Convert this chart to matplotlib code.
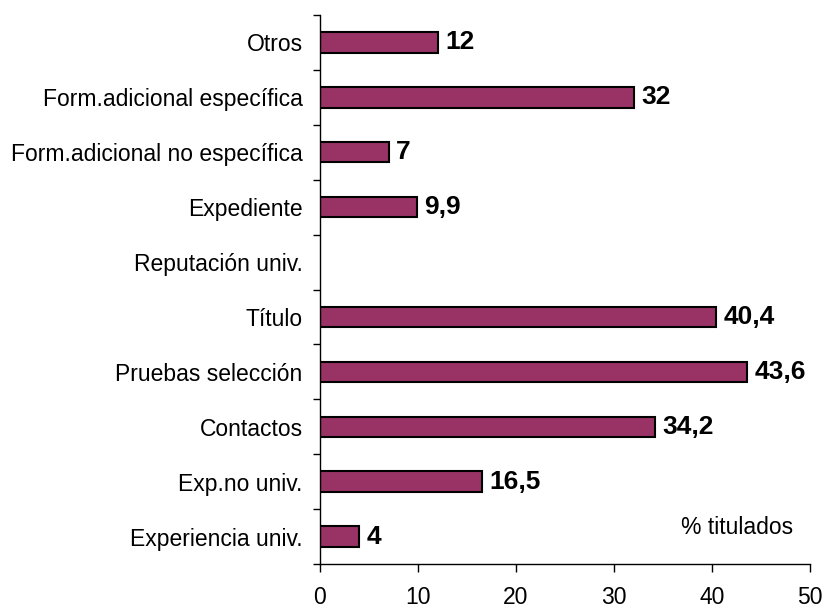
import numpy as np
import matplotlib
matplotlib.use("Agg")
import matplotlib.pyplot as plt
from matplotlib.ticker import FixedLocator

categories = ["Experiencia univ.", "Exp.no univ.", "Contactos", "Pruebas selección",
              "Título", "Reputación univ.", "Expediente",
              "Form.adicional no específica", "Form.adicional específica", "Otros"]
values = [4, 16.5, 34.2, 43.6, 40.4, np.nan, 9.9, 7, 32, 12]
value_labels = ["4", "16,5", "34,2", "43,6", "40,4", "", "9,9", "7", "32", "12"]
x_ticks = [0, 10, 20, 30, 40, 50]
axis_note = "% titulados"

plt.rcParams['font.family'] = ['Liberation Sans', 'DejaVu Sans']

fig = plt.figure(figsize=(8.24, 6.08), dpi=100)
ax = fig.add_axes([320/824, 1 - 564/608, (810-320)/824, (564-15)/608])

y = np.arange(len(categories))
ax.barh(y, values, height=0.37, color="#993366", edgecolor="black", linewidth=1.5)

for yi, v, lab in zip(y, values, value_labels):
    if lab and not np.isnan(v):
        ax.text(v + 0.75, yi, lab, va="center", ha="left", fontsize=19, fontweight="bold")

ax.set_xlim(0, 50)
ax.set_ylim(-0.5, len(categories) - 0.5)
ax.set_xticks(x_ticks)
ax.set_xticklabels([str(t) for t in x_ticks], fontsize=16.5)
ax.set_yticks(y)
ax.set_yticklabels(categories, fontsize=16.5)
ax.yaxis.set_minor_locator(FixedLocator(np.arange(-0.5, len(categories), 1.0)))
ax.tick_params(axis="y", which="major", length=0, pad=12.5)
ax.tick_params(axis="y", which="minor", length=5, width=1, direction="out")
ax.tick_params(axis="x", which="major", length=6, width=1, direction="out", pad=10)

for s in ["top", "right"]:
    ax.spines[s].set_visible(False)
for s in ["left", "bottom"]:
    ax.spines[s].set_linewidth(1)

ax.text((737-320)/490, (564-528)/549, axis_note, transform=ax.transAxes,
        ha="center", va="center", fontsize=16.5)

fig.savefig("out.png", dpi=100)
